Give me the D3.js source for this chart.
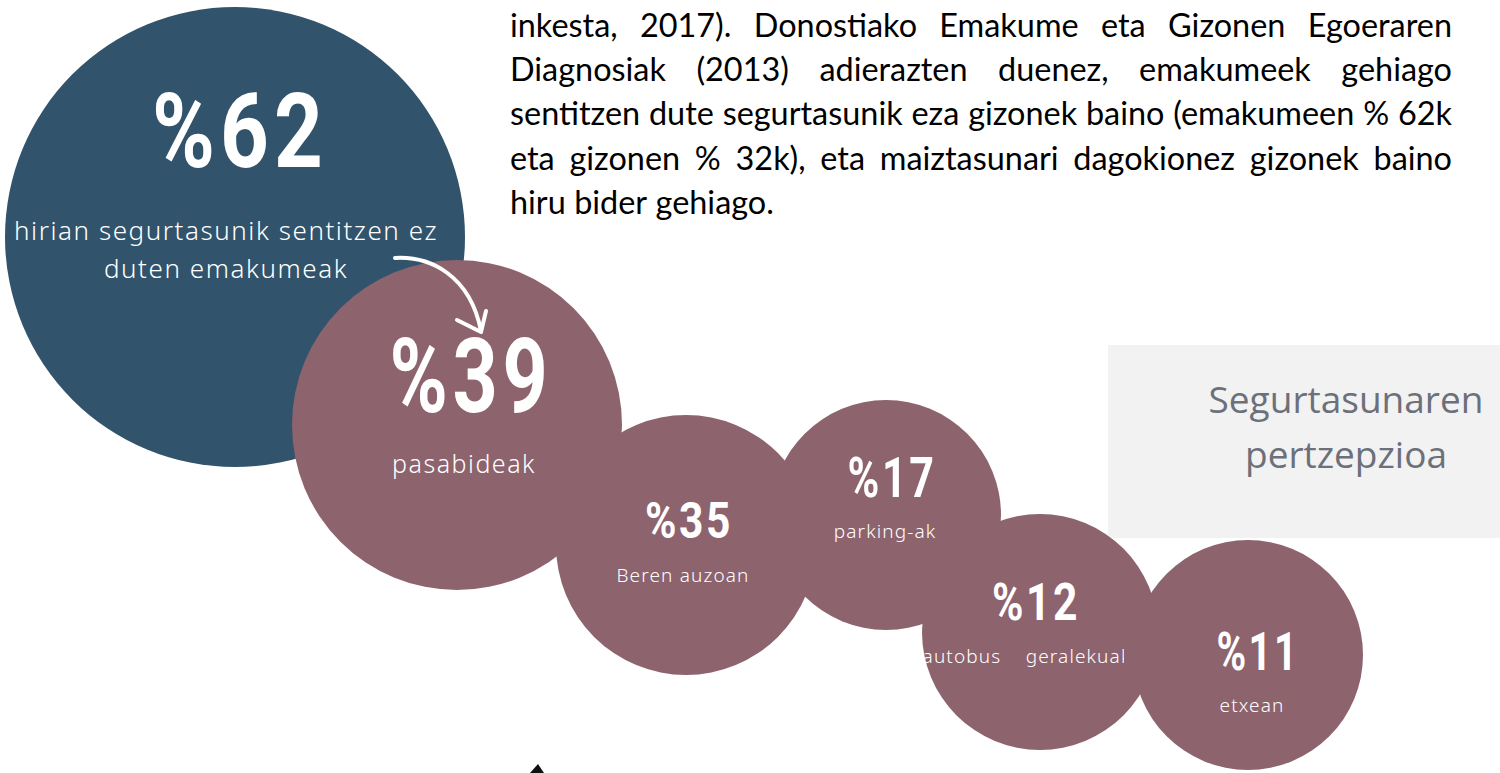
<!DOCTYPE html>
<html>
<head>
<meta charset="utf-8">
<script src="https://cdn.jsdelivr.net/npm/d3@7"></script>
<style>
  html, body { margin: 0; padding: 0; background: #fff; overflow: hidden; }
  svg { display: block; }
</style>
</head>
<body>
<svg id="chart"></svg>
<script>
const width = 1500;
const height = 773;

// data
const places = ["hirian", "pasabideak", "auzoan", "parking", "autobus", "etxean"];
const values = [62, 39, 35, 17, 12, 11];
const labels = [
  ["hirian segurtasunik sentitzen ez", "duten emakumeak"],
  ["pasabideak"],
  ["Beren auzoan"],
  ["parking-ak"],
  ["autobus    geralekuak"],
  ["etxean"]
];
const paragraph = [
  "inkesta, 2017). Donostiako Emakume eta Gizonen Egoeraren",
  "Diagnosiak (2013) adierazten duenez, emakumeek gehiago",
  "sentitzen dute segurtasunik eza gizonek baino (emakumeen % 62k",
  "eta gizonen % 32k), eta maiztasunari dagokionez gizonek baino",
  "hiru bider gehiago."
];
const titleLines = ["Segurtasunaren", "pertzepzioa"];

// layout scales
const cx = d3.scaleOrdinal(places, [235, 457, 686, 886, 1040, 1248]);
const cy = d3.scaleOrdinal(places, [237, 425, 545, 515, 632, 655]);
const r = d3.scaleOrdinal(places, [230, 165, 130, 115, 118, 115]);
const fill = d3.scaleOrdinal(places, ["#31536b", "#8d636e", "#8d636e", "#8d636e", "#8d636e", "#8d636e"]);
const numX = d3.scaleOrdinal(places, [240, 471, 689, 892, 1036, 1258]);
const numY = d3.scaleOrdinal(places, [167, 412, 538, 497, 620, 670]);
const numW = d3.scaleOrdinal(places, [176, 163, 88, 89, 88, 83]);
const numH = d3.scaleOrdinal(places, [74, 74, 36, 39, 37, 38]);
const labX = d3.scaleOrdinal(places, [226, 464, 683, 885, 1027, 1252]);
const labY = d3.scaleOrdinal(places, [240, 473, 582, 538, 663, 712]);
const labSize = d3.scaleOrdinal(places, [26, 25, 19, 19, 19, 19]);

const svg = d3.select("#chart").attr("width", width).attr("height", height);

const rows = places.map((p, i) => ({ place: p, value: values[i], label: labels[i] }));

// gray title box
svg.append("rect")
  .attr("x", 1108).attr("y", 345)
  .attr("width", 392).attr("height", 193)
  .attr("fill", "#f2f2f2");

svg.append("g")
  .selectAll("text")
  .data(titleLines)
  .join("text")
  .attr("x", 1346)
  .attr("y", (d, i) => 413 + i * 55)
  .attr("text-anchor", "middle")
  .attr("font-family", "'Open Sans', sans-serif")
  .attr("font-size", 37)
  .attr("fill", "#6b707a")
  .text(d => d);

// circles
svg.append("g")
  .selectAll("circle")
  .data(rows)
  .join("circle")
  .attr("cx", d => cx(d.place))
  .attr("cy", d => cy(d.place))
  .attr("r", d => r(d.place))
  .attr("fill", d => fill(d.place));

// big numbers
const nums = svg.append("g")
  .selectAll("text")
  .data(rows)
  .join("text")
  .attr("text-anchor", "middle")
  .attr("font-family", "Roboto, sans-serif")
  .attr("font-weight", 700)
  .attr("fill", "#fff")
  .attr("letter-spacing", "0.06em")
  .attr("font-size", d => numH(d.place) / 0.711)
  .text(d => "%" + d.value);

nums.each(function(d) {
  const w = this.getComputedTextLength();
  const k = numW(d.place) / w;
  d3.select(this).attr("transform",
    `translate(${numX(d.place)},${numY(d.place)}) scale(${k},1)`);
});

// labels
const clip = svg.append("defs").append("clipPath").attr("id", "clipBus");
clip.append("rect").attr("x", 0).attr("y", 0).attr("width", 1124).attr("height", height);

svg.append("g")
  .selectAll("text")
  .data(rows)
  .join("text")
  .attr("x", d => labX(d.place))
  .attr("y", d => labY(d.place))
  .attr("text-anchor", "middle")
  .attr("font-family", "'Noto Sans', sans-serif")
  .attr("font-weight", 300)
  .attr("font-size", d => labSize(d.place))
  .attr("letter-spacing", "0.06em")
  .attr("fill", "#fff")
  .attr("clip-path", d => d.place === "autobus" ? "url(#clipBus)" : null)
  .style("white-space", "pre")
  .selectAll("tspan")
  .data(d => d.label.map(t => ({ t, d })))
  .join("tspan")
  .attr("x", o => labX(o.d.place))
  .attr("dy", (o, i) => i === 0 ? 0 : 38)
  .text(o => o.t);

// arrow
const arrow = svg.append("g")
  .attr("fill", "none")
  .attr("stroke", "#fff")
  .attr("stroke-width", 4)
  .attr("stroke-linecap", "round")
  .attr("stroke-linejoin", "round");
arrow.append("path").attr("d", "M395,258 C430,256 470,275 481,331");
arrow.append("path").attr("d", "M457,320 L481,332 L486,311");

// paragraph, justified
const pLeft = 510, pRight = 1452;
const para = svg.append("g")
  .attr("font-family", "Lato, sans-serif")
  .attr("fill", "#000");

// fit font size to the last line width
const probe = para.append("text").attr("font-size", 24).text(paragraph[4]);
const fs = 24 * 263 / probe.node().getComputedTextLength();
probe.remove();
para.attr("font-size", fs);

paragraph.forEach((line, li) => {
  const y = 37 + li * 44.2;
  const words = line.split(" ");
  const g = para.append("g");
  const ts = words.map(w => g.append("text").attr("y", y).text(w));
  const ws = ts.map(t => t.node().getComputedTextLength());
  const total = d3.sum(ws);
  const last = li === paragraph.length - 1;
  const gap = last ? fs * 0.26 : (pRight - pLeft - total) / (words.length - 1);
  let x = pLeft;
  ts.forEach((t, i) => { t.attr("x", x); x += ws[i] + gap; });
});

// small dark mark at the bottom edge
svg.append("path")
  .attr("d", "M530,773 L538,764 L544,773 Z")
  .attr("fill", "#111");
</script>
</body>
</html>
